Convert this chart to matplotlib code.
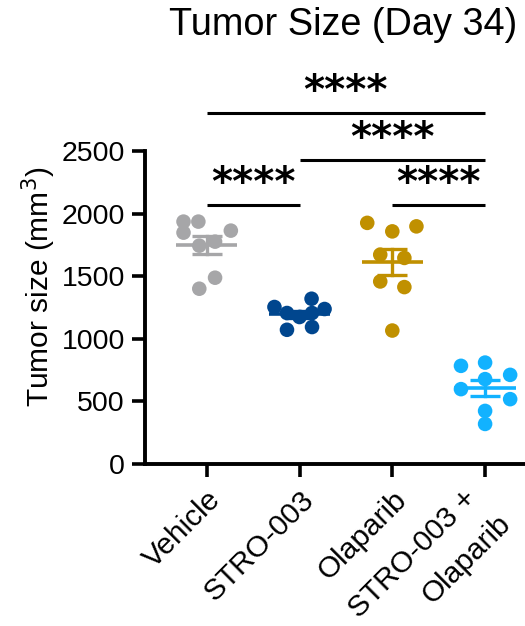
import numpy as np
import matplotlib
matplotlib.use('Agg')
import matplotlib.pyplot as plt
import matplotlib.transforms as mtransforms

plt.rcParams['font.family'] = ['Liberation Sans', 'DejaVu Sans']

# data
groups = ['Vehicle', 'STRO-003', 'Olaparib', 'STRO-003 +']
group4_line2 = 'Olaparib'
vehicle = [1936, 1936, 1848, 1864, 1744, 1776, 1488, 1400]
stro003 = [1254, 1320, 1238, 1206, 1174, 1206, 1072, 1094]
olaparib = [1926, 1858, 1898, 1672, 1646, 1458, 1413, 1066]
combo = [784, 810, 712, 678, 598, 518, 424, 320]
# significance brackets: (group a, group b, height, label)
brackets = [(0, 3, 2806, '****'), (1, 3, 2432, '****'),
            (0, 1, 2072, '****'), (2, 3, 2072, '****')]

# horizontal scatter of the dots (layout only)
jitter = [[-0.25, -0.09, -0.25, 0.26, -0.08, 0.09, 0.09, -0.08],
          [-0.27, 0.13, 0.27, -0.135, 0, 0.135, -0.135, 0.135],
          [-0.27, 0, 0.26, -0.13, 0.13, -0.13, 0.13, 0],
          [-0.26, 0, 0.27, 0, -0.26, 0.27, 0, 0]]
colors = ['#A6A6A8', '#00468E', '#C09000', '#12B2FF']

series = [vehicle, stro003, olaparib, combo]

fig = plt.figure(figsize=(5.25, 6.26), dpi=100)
ax = fig.add_axes([145 / 525, 1 - 464 / 626, 380 / 525, 313 / 626])

for i, vals in enumerate(series):
    vals = np.array(vals, dtype=float)
    xs = i + np.array(jitter[i])
    ax.scatter(xs, vals, s=110, color=colors[i], edgecolors='none', zorder=2, clip_on=False)
    m = vals.mean()
    sem = vals.std(ddof=1) / np.sqrt(len(vals))
    ax.plot([i - 0.33, i + 0.33], [m, m], color=colors[i], lw=2.6, zorder=3, solid_capstyle='butt')
    ax.plot([i, i], [m - sem, m + sem], color=colors[i], lw=2.4, zorder=3)
    for yy in (m - sem, m + sem):
        ax.plot([i - 0.16, i + 0.16], [yy, yy], color=colors[i], lw=2.4, zorder=3, solid_capstyle='butt')

for a, b, h, lab in brackets:
    ax.plot([a, b], [h, h], color='black', lw=2.2, clip_on=False, solid_capstyle='butt')
    ax.text((a + b) / 2, h + 165, lab, ha='center', va='center', fontsize=29,
            fontweight='bold', family='DejaVu Sans', clip_on=False)

ax.set_xlim(-0.665, 3.43)
ax.set_ylim(0, 2500)
ax.set_yticks([0, 500, 1000, 1500, 2000, 2500])
ax.set_xticks(range(4))
ax.set_xticklabels(groups, rotation=45, ha='right', rotation_mode='anchor')
ax.tick_params(axis='both', labelsize=20.5, width=2.6, length=9.5, color='black')
ax.tick_params(axis='x', labelsize=21.5, pad=6)
ax.tick_params(axis='y', pad=5)

# last label: first line nudged left, second line set a bit past its end
lbl = ax.get_xticklabels()[3]
lbl.set_transform(lbl.get_transform() +
                  mtransforms.ScaledTranslation(-23 / 100, 1 / 100, fig.dpi_scale_trans))
ax.annotate(group4_line2, xy=(3, 0), xycoords=ax.get_xaxis_transform(),
            xytext=(8, -33), textcoords='offset points', rotation=45,
            ha='right', va='top', rotation_mode='anchor', fontsize=21.5,
            annotation_clip=False)

ax.spines['top'].set_visible(False)
ax.spines['right'].set_visible(False)
ax.spines['left'].set_linewidth(2.8)
ax.spines['bottom'].set_linewidth(2.8)

fig.text(39 / 525, 1 - 287 / 626, 'Tumor size (mm$^3$)', rotation=90,
         ha='center', va='center', fontsize=21.5)
fig.text(343.5 / 525, 1 - 35 / 626, 'Tumor Size (Day 34)', ha='center',
         va='baseline', fontsize=27.3)

fig.savefig('out.png', dpi=100)
